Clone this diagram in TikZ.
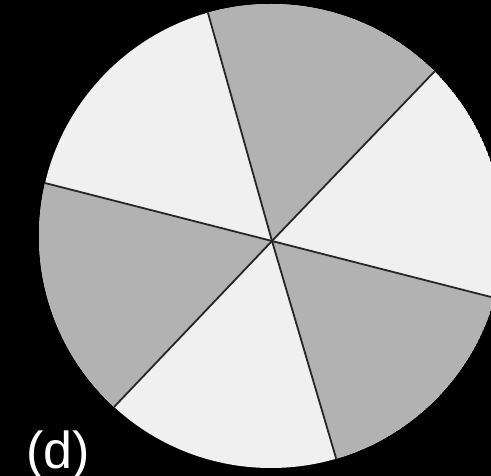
\documentclass[tikz,border=0pt]{standalone}
\usepackage{fontspec}
\setmainfont{Liberation Sans}
\definecolor{darksec}{RGB}{178,178,178}
\definecolor{lightsec}{RGB}{240,240,240}
\tikzset{
  divline/.style={black!85, line width=1.8pt},
  darkfill/.style={fill=darksec},
  lbl/.style={text=white, font=\fontsize{52}{52}\selectfont, inner sep=0pt, anchor=base west}
}
\begin{document}
\begin{tikzpicture}[x=1pt,y=-1pt]
\useasboundingbox (0,0) rectangle (491,476);
\fill[black] (0,0) rectangle (491,476);
\coordinate (P) at (272,241);
\coordinate (At) at (144,-215);
\coordinate (Bt) at (596,-97);
\coordinate (Cr) at (710,353);
\coordinate (Ab) at (400,675);
\coordinate (Bb) at (-42,571);
\coordinate (Cl) at (-182,125);
\begin{scope}
  \clip (271,236) circle (232);
  \fill[lightsec] (271,236) circle (232);
  \fill[darkfill] (P) -- (At) -- (Bt) -- cycle;
  \fill[darkfill] (P) -- (Cr) -- (Ab) -- cycle;
  \fill[darkfill] (P) -- (Bb) -- (Cl) -- cycle;
  \draw[divline] (At) -- (P) -- (Ab);
  \draw[divline] (Bt) -- (P) -- (Bb);
  \draw[divline] (Cl) -- (P) -- (Cr);
\end{scope}
\node[lbl] (label) at (26,468) {(d)};
\end{tikzpicture}
\end{document}
